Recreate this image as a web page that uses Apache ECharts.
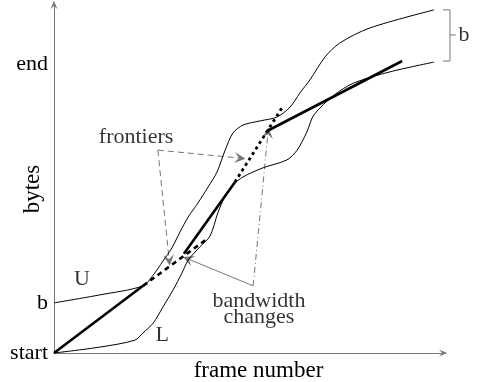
<!DOCTYPE html>
<html>
<head>
<meta charset="utf-8">
<script src="https://cdn.jsdelivr.net/npm/echarts@6/dist/echarts.min.js"></script>
<style>html,body{margin:0;padding:0;background:#fff}#c{width:477px;height:382px}</style>
</head>
<body>
<div id="c"></div>
<script>
// Upper frontier U
const frameU = [0, 11.8, 22.9, 25.5, 28.0, 30.3, 32.4, 34.5, 37.0, 39.6, 41.9, 44.0, 46.0, 48.6, 53.0, 57.3, 60.7, 63.2, 65.8, 69.7, 73.5, 81.2, 97.7];
const bytesU = [14.4, 16.7, 19.3, 22.4, 26.4, 30.2, 34.8, 39.1, 43.1, 47.7, 52.0, 58.3, 63.2, 65.5, 66.7, 67.8, 70.7, 74.7, 78.5, 85.1, 89.1, 93.4, 98.6];
// Lower frontier L
const frameL = [0, 11.8, 20.8, 22.9, 25.5, 28.0, 30.6, 32.9, 34.5, 37.5, 40.1, 42.2, 44.0, 46.0, 48.6, 53.7, 59.9, 62.5, 65.0, 66.8, 72.0, 77.1, 86.4, 97.7];
const bytesL = [0, 1.7, 3.7, 5.8, 8.6, 13.2, 18.1, 23.0, 26.7, 30.5, 33.6, 40.5, 45.1, 48.3, 50.6, 53.2, 55.5, 58.3, 63.5, 68.4, 74.1, 77.6, 80.8, 83.6];
// Transmission schedule: solid pieces and planned (dashed / dotted) continuations
const solidFrames = [[0, 22.9], [33.4, 46.5], [54.8, 89.5]];
const solidBytes  = [[0, 19.3], [28.5, 49.1], [63.8, 83.9]];
const dashedFrames = [22.9, 39.6];
const dashedBytes  = [19.3, 33.0];
const dottedFrames = [46.5, 58.9];
const dottedBytes  = [49.1, 71.0];
// y-axis tick labels
const yTickValues = [0, 14.4, 83.0];
const yTickLabels = ['start', 'b', 'end'];
// annotation arrows (from -> to)
const frontierFrom = [26.7, 58.3];
const frontierTo = [[47.8, 56.0], [29.6, 26.7]];
const bwFrom = [51.2, 19.3];
const bwTo = [[34.5, 27.0], [55.0, 63.2]];
// bracket "b" at the right end
const bracketFrame = [100.0, 101.8, 103.3];
const bracketBytes = [98.6, 91.4, 83.9];
// text annotations
const annoTexts = ['U', 'L', 'frontiers', 'bandwidth\nchanges', 'b'];
const annoFrame = [7.2, 27.8, 21.1, 52.7, 105.4];
const annoBytes = [21.3, 5.2, 62.1, 12.6, 91.4];

const zip = (xs, ys) => xs.map((x, i) => [x, ys[i]]);
const serif = 'Liberation Serif';
const gray = '#777';
const arrowHead = 'path://M5,0 L10,12 L5,7 L0,12 Z';

const series = [];
series.push({type: 'line', data: zip(frameU, bytesU), smooth: 0.3, showSymbol: false, lineStyle: {color: '#000', width: 1}, clip: false});
series.push({type: 'line', data: zip(frameL, bytesL), smooth: 0.3, showSymbol: false, lineStyle: {color: '#000', width: 1}, clip: false});
solidFrames.forEach((fx, i) => {
  series.push({type: 'line', data: zip(fx, solidBytes[i]), showSymbol: false, lineStyle: {color: '#000', width: 2.6}});
});
series.push({type: 'line', data: zip(dashedFrames, dashedBytes), showSymbol: false, lineStyle: {color: '#000', width: 2.6, type: [5, 4]}});
series.push({type: 'line', data: zip(dottedFrames, dottedBytes), showSymbol: false, lineStyle: {color: '#000', width: 2.8, type: [3, 3.5]}});
// bracket
series.push({
  type: 'lines', coordinateSystem: 'cartesian2d', polyline: true, clip: false, silent: true,
  lineStyle: {color: gray, width: 1, opacity: 1},
  data: [
    {coords: [[bracketFrame[0], bracketBytes[0]], [bracketFrame[1], bracketBytes[0]], [bracketFrame[1], bracketBytes[2]], [bracketFrame[0], bracketBytes[2]]]},
    {coords: [[bracketFrame[1], bracketBytes[1]], [bracketFrame[2], bracketBytes[1]]]}
  ]
});
// arrows
series.push({
  type: 'lines', coordinateSystem: 'cartesian2d', symbol: ['none', arrowHead], symbolSize: [7, 11],
  lineStyle: {color: gray, width: 1, type: [6, 4], opacity: 1},
  data: frontierTo.map(t => ({coords: [frontierFrom, t]}))
});
series.push({
  type: 'lines', coordinateSystem: 'cartesian2d', symbol: ['none', arrowHead], symbolSize: [7, 11],
  lineStyle: {color: gray, width: 1, opacity: 1},
  data: [
    {coords: [bwFrom, bwTo[0]], lineStyle: {type: 'solid'}},
    {coords: [bwFrom, bwTo[1]], lineStyle: {type: [6, 3, 1, 3]}}
  ]
});
// text annotations
series.push({
  type: 'scatter', symbolSize: 0, clip: false, silent: true,
  data: annoTexts.map((t, i) => ({name: t, value: [annoFrame[i], annoBytes[i]]})),
  label: {show: true, position: 'inside', formatter: '{b}', color: '#000', fontFamily: serif, fontSize: 22, lineHeight: 16}
});

const chart = echarts.init(document.getElementById('c'), null, {renderer: 'canvas'});
chart.setOption({
  animation: false,
  backgroundColor: '#fff',
  grid: {left: 54, right: 34, top: 5, bottom: 29, containLabel: false, outerBoundsMode: 'none'},
  xAxis: {
    type: 'value', min: 0, max: 100,
    axisLine: {show: true, lineStyle: {color: gray, width: 1}, symbol: ['none', arrowHead], symbolSize: [7, 11]},
    axisTick: {show: false}, splitLine: {show: false}, axisLabel: {show: false},
    name: 'frame number', nameLocation: 'middle', nameGap: 6, nameMoveOverlap: false,
    nameTextStyle: {fontFamily: serif, fontSize: 23, color: '#000', padding: [0, 0, 0, 20]}
  },
  yAxis: {
    type: 'value', min: 0, max: 100,
    axisLine: {show: true, lineStyle: {color: gray, width: 1}, symbol: ['none', arrowHead], symbolSize: [7, 11]},
    axisTick: {show: false}, splitLine: {show: false},
    axisLabel: {
      show: true, customValues: yTickValues, margin: 6,
      formatter: v => { const i = yTickValues.indexOf(v); return i >= 0 ? yTickLabels[i] : ''; },
      fontFamily: serif, fontSize: 22, color: '#000'
    },
    name: 'bytes', nameLocation: 'middle', nameGap: 10, nameRotate: 90, nameMoveOverlap: false,
    nameTextStyle: {fontFamily: serif, fontSize: 23, color: '#000', padding: [0, 20, 0, 0]}
  },
  series: series
});
</script>
</body>
</html>
